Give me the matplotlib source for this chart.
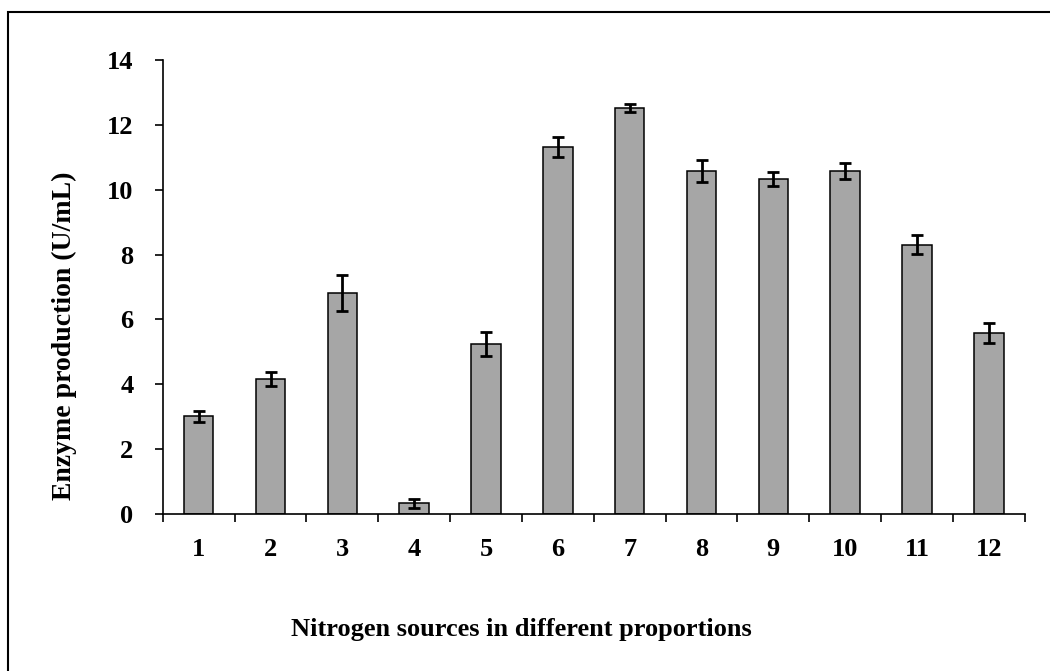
import numpy as np
import matplotlib
matplotlib.use("Agg")
import matplotlib.pyplot as plt
from matplotlib.patches import Rectangle

# data
sources = ["1", "2", "3", "4", "5", "6", "7", "8", "9", "10", "11", "12"]
production = [3.02, 4.16, 6.81, 0.33, 5.24, 11.32, 12.52, 10.58, 10.34, 10.58, 8.30, 5.58]
errors = [0.17, 0.22, 0.56, 0.13, 0.38, 0.30, 0.13, 0.35, 0.22, 0.25, 0.29, 0.32]

plt.rcParams['font.family'] = ['Liberation Serif', 'DejaVu Serif']
plt.rcParams['font.weight'] = 'bold'

fig = plt.figure(figsize=(10.5, 6.71), dpi=100)
ax = fig.add_axes([0.155, 0.234, 0.821, 0.6766])

# outer frame (only left and top visible in the reference)
fig.patches.append(Rectangle((8 / 1050, -0.05), 1.2, 1 - 12 / 671 + 0.05,
                             transform=fig.transFigure, fill=False,
                             edgecolor='black', linewidth=1.5))

x = np.arange(1, len(sources) + 1)
ax.bar(x, production, width=0.41, color='#a6a6a6', edgecolor='black',
       linewidth=1.1, zorder=2)
ax.errorbar(x, production, yerr=errors, fmt='none', ecolor='black',
            elinewidth=2, capsize=4.5, capthick=2, zorder=3)

ax.set_xlim(0.5, 12.5)
ax.set_ylim(0, 14)
ax.set_yticks(np.arange(0, 15, 2))
ax.set_xticks(np.arange(0.5, 13, 1))
ax.set_xticklabels([])
ax.set_xticks(x, minor=True)
ax.set_xticklabels(sources, minor=True)

ax.tick_params(axis='x', which='major', direction='out', length=6, width=1.2)
ax.tick_params(axis='x', which='minor', length=0, pad=17, labelsize=19)
ax.tick_params(axis='y', direction='out', length=6, width=1.2, pad=15, labelsize=19)

for s in ['top', 'right']:
    ax.spines[s].set_visible(False)
for s in ['left', 'bottom']:
    ax.spines[s].set_linewidth(1.2)

ax.set_ylabel('Enzyme production (U/mL)', fontsize=20, fontweight='bold')
ax.yaxis.set_label_coords(-0.099, 0.392)
ax.set_xlabel('Nitrogen sources in different proportions', fontsize=19,
              fontweight='bold')
ax.xaxis.set_label_coords(0.4165, -0.229)

fig.savefig('out.png', dpi=100)
